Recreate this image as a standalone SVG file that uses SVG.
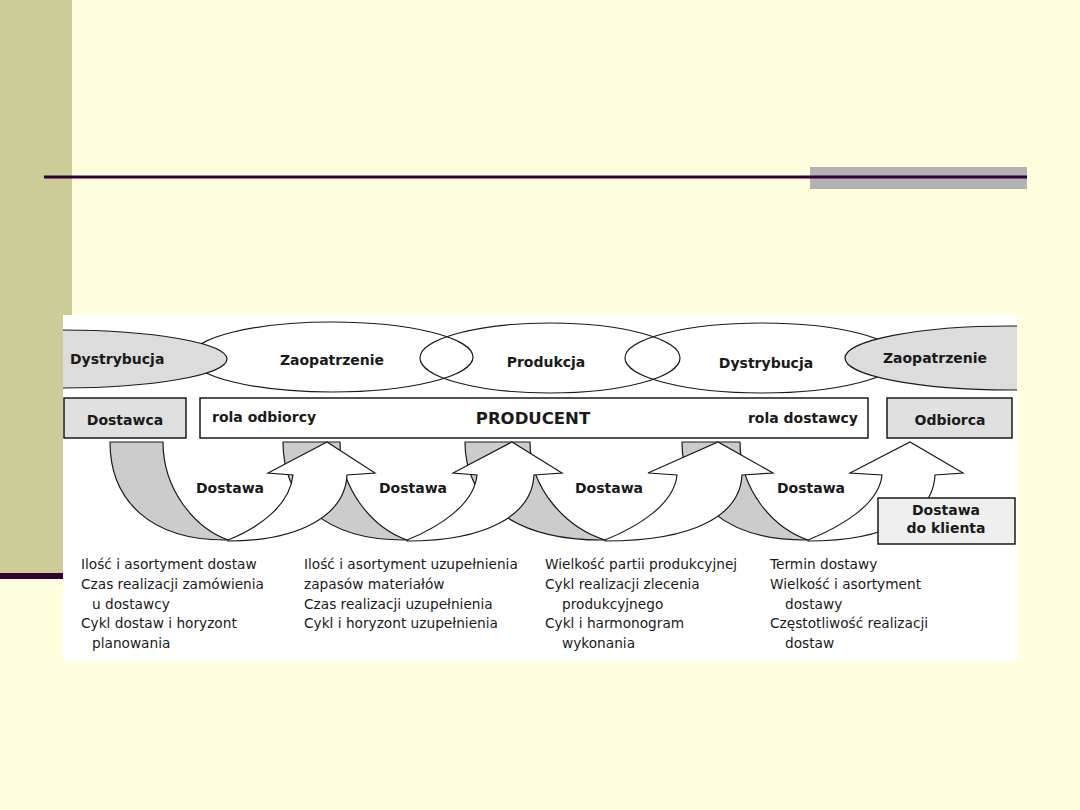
<svg xmlns="http://www.w3.org/2000/svg" width="1080" height="810" viewBox="0 0 1080 810">
<defs>
<style>
.lbl{font-family:"DejaVu Sans",Verdana,sans-serif;font-weight:bold;font-size:14px;fill:#1a1a1a}
.big{font-family:"DejaVu Sans",Verdana,sans-serif;font-weight:bold;font-size:16.5px;fill:#1a1a1a}
.body{font-family:"DejaVu Sans",Verdana,sans-serif;font-size:13.7px;fill:#1a1a1a}
.ell{fill:none;stroke:#1a1a1a;stroke-width:1.2}
.gell{fill:#dcdcdc;stroke:#1a1a1a;stroke-width:1.2}
.box{fill:#ffffff;stroke:#1a1a1a;stroke-width:1.5}
.gbox{fill:#e0e0e0;stroke:#1a1a1a;stroke-width:1.5}
.lbox{fill:#efefef;stroke:#1a1a1a;stroke-width:1.5}
.gray{fill:#cccccc;stroke:#1a1a1a;stroke-width:1.2;stroke-linejoin:round}
.white{fill:#ffffff;stroke:#1a1a1a;stroke-width:1.2;stroke-linejoin:miter}
</style>
<clipPath id="dclip"><rect x="63" y="315" width="954" height="346"/></clipPath>
</defs>
<rect width="1080" height="810" fill="#FFFFE0"/>
<rect x="0" y="0" width="72" height="573" fill="#CCCC99"/>
<rect x="0" y="573" width="72" height="6" fill="#330033"/>
<rect x="810" y="167" width="217" height="22" fill="#B2B2B2"/>
<rect x="44" y="175.5" width="983" height="3" fill="#330033"/>
<rect x="63" y="315" width="954" height="346" fill="#ffffff"/>

<g id="phases" clip-path="url(#dclip)">
  <ellipse class="ell" cx="332" cy="357" rx="141" ry="35"/>
  <ellipse class="ell" cx="550" cy="358" rx="130" ry="35"/>
  <ellipse class="ell" cx="762" cy="358" rx="137" ry="35"/>
  <ellipse class="gell" cx="60" cy="359" rx="167" ry="29"/>
  <ellipse class="gell" cx="1010" cy="358" rx="165" ry="32"/>
  <text class="lbl" x="70" y="364">Dystrybucja</text>
  <text class="lbl" x="332" y="365" text-anchor="middle">Zaopatrzenie</text>
  <text class="lbl" x="546" y="367" text-anchor="middle">Produkcja</text>
  <text class="lbl" x="766" y="368" text-anchor="middle">Dystrybucja</text>
  <text class="lbl" x="935" y="363" text-anchor="middle">Zaopatrzenie</text>
</g>

<g id="dostawca">
  <rect class="gbox" x="64" y="398" width="122" height="40"/>
  <text class="lbl" x="125" y="425" text-anchor="middle">Dostawca</text>
</g>
<g id="producent">
  <rect class="box" x="200" y="398" width="668" height="40"/>
  <text class="lbl" x="212" y="422">rola odbiorcy</text>
  <text class="big" x="533" y="424" text-anchor="middle">PRODUCENT</text>
  <text class="lbl" x="858" y="423" text-anchor="end">rola dostawcy</text>
</g>
<g id="odbiorca">
  <rect class="gbox" x="887" y="398" width="125" height="40"/>
  <text class="lbl" x="950" y="425" text-anchor="middle">Odbiorca</text>
</g>

<g id="connectors">
  <path class="gray" d="M110,442 L163,442 C163,490 195,528 228,540 C150,541 110,500 110,442 Z"/>
  <path class="gray" d="M283,442 L340,442 C340,490 373,528 407,540 C325,541 283,500 283,442 Z"/>
  <path class="gray" d="M465,442 L530,442 C530,490 567,528 605,540 C513,541 465,500 465,442 Z"/>
  <path class="gray" d="M682,442 L740,442 C740,490 773,528 808,540 C725,541 682,500 682,442 Z"/>
  <path class="white" d="M228,540 C260,527 290,505 293,475 L268,473 L327,442 L375,473 L347,475 C345,515 300,541 228,541 Z"/>
  <path class="white" d="M407,540 C439,527 474,505 477,475 L453,473 L512,442 L562,473 L534,475 C532,515 487,541 407,541 Z"/>
  <path class="white" d="M605,540 C637,527 674,505 677,475 L648,473 L718,442 L773,473 L742,475 C740,515 695,541 605,541 Z"/>
  <path class="white" d="M808,540 C840,527 879,505 882,475 L850,473 L910,442 L963,473 L935,475 C933,515 888,541 808,541 Z"/>
  <text class="lbl" x="230" y="493" text-anchor="middle">Dostawa</text>
  <text class="lbl" x="413" y="493" text-anchor="middle">Dostawa</text>
  <text class="lbl" x="609" y="493" text-anchor="middle">Dostawa</text>
  <text class="lbl" x="811" y="493" text-anchor="middle">Dostawa</text>
</g>

<g id="dostawa-do-klienta">
  <rect class="lbox" x="878" y="498" width="137" height="46"/>
  <text class="lbl" x="946" y="515" text-anchor="middle">Dostawa</text>
  <text class="lbl" x="946" y="533" text-anchor="middle">do klienta</text>
</g>

<g id="notes">
  <text class="body" x="81" y="569">Ilość i asortyment dostaw</text>
  <text class="body" x="81" y="589">Czas realizacji zamówienia</text>
  <text class="body" x="92" y="609">u dostawcy</text>
  <text class="body" x="81" y="628">Cykl dostaw i horyzont</text>
  <text class="body" x="92" y="648">planowania</text>

  <text class="body" x="304" y="569">Ilość i asortyment uzupełnienia</text>
  <text class="body" x="304" y="589">zapasów materiałów</text>
  <text class="body" x="304" y="609">Czas realizacji uzupełnienia</text>
  <text class="body" x="304" y="628">Cykl i horyzont uzupełnienia</text>

  <text class="body" x="545" y="569">Wielkość partii produkcyjnej</text>
  <text class="body" x="545" y="589">Cykl realizacji zlecenia</text>
  <text class="body" x="562" y="609">produkcyjnego</text>
  <text class="body" x="545" y="628">Cykl i harmonogram</text>
  <text class="body" x="562" y="648">wykonania</text>

  <text class="body" x="770" y="569">Termin dostawy</text>
  <text class="body" x="770" y="589">Wielkość i asortyment</text>
  <text class="body" x="785" y="609">dostawy</text>
  <text class="body" x="770" y="628">Częstotliwość realizacji</text>
  <text class="body" x="785" y="648">dostaw</text>
</g>
</svg>
